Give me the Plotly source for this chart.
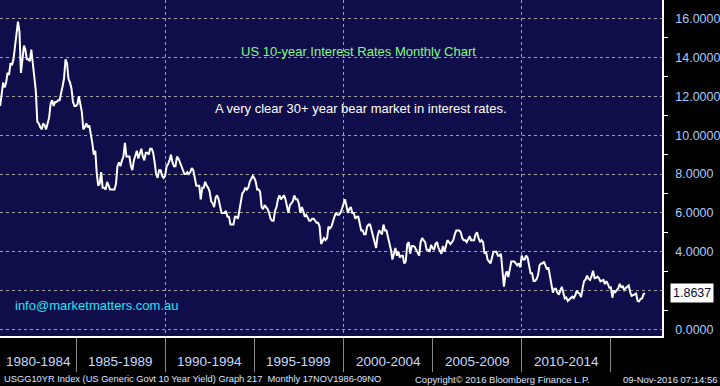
import pandas as pd
import plotly.graph_objects as go

# ---------------- data (month-end US 10y yield, %) ----------------
start_month = "1980-09-30"
yield_1980s = [
    11.50, 12.30, 12.70, 12.45,                                                    # 1980 Sep-Dec
    12.70, 13.20, 13.10, 13.70, 13.60, 13.90, 14.50, 15.10, 15.84, 15.30, 13.20, 13.90,  # 1981
    14.60, 14.40, 13.90, 13.90, 13.80, 14.40, 13.70, 12.70, 12.30, 10.70, 10.60, 10.40,  # 1982
    10.30, 10.60, 10.50, 10.30, 10.70, 10.90, 11.60, 11.80, 11.50, 11.70, 11.70, 11.80,  # 1983
    11.80, 12.10, 12.50, 12.90, 13.90, 13.70, 12.90, 12.70, 12.40, 11.70, 11.50, 11.50,  # 1984
    11.60, 12.00, 11.60, 11.20, 10.30, 10.40, 10.60, 10.40, 10.50, 10.10, 9.60, 9.00,    # 1985
    9.20, 8.10, 7.40, 7.50, 8.10, 7.30, 7.30, 7.20, 7.60, 7.40, 7.20, 7.20,              # 1986
    7.20, 7.20, 7.50, 8.40, 8.60, 8.40, 8.70, 8.90, 9.60, 8.90, 8.90, 8.90,              # 1987
    8.40, 8.20, 8.70, 8.90, 9.20, 8.80, 9.10, 9.30, 8.90, 8.70, 9.10, 9.10,              # 1988
    9.00, 9.30, 9.30, 9.10, 8.60, 8.00, 7.80, 8.20, 8.20, 7.90, 7.80, 7.90,              # 1989
]
yield_1990s = [
    8.40, 8.50, 8.70, 9.00, 8.60, 8.40, 8.40, 8.90, 8.80, 8.60, 8.30, 8.10,              # 1990
    8.00, 8.00, 8.10, 8.00, 8.10, 8.30, 8.20, 7.80, 7.40, 7.40, 7.40, 6.70,              # 1991
    7.30, 7.30, 7.60, 7.40, 7.30, 7.10, 6.60, 6.50, 6.30, 6.80, 6.90, 6.70,              # 1992
    6.40, 6.00, 6.00, 6.00, 6.10, 5.80, 5.80, 5.40, 5.40, 5.40, 5.80, 5.80,              # 1993
    5.70, 6.10, 6.70, 7.00, 7.10, 7.30, 7.20, 7.30, 7.60, 7.80, 7.90, 7.80,              # 1994
    7.60, 7.20, 7.20, 7.10, 6.30, 6.20, 6.40, 6.30, 6.20, 6.00, 5.70, 5.60,              # 1995
    5.60, 6.10, 6.30, 6.70, 6.90, 6.70, 6.80, 6.90, 6.70, 6.30, 6.00, 6.40,              # 1996
    6.50, 6.60, 6.90, 6.70, 6.70, 6.50, 6.00, 6.30, 6.10, 5.80, 5.90, 5.70,              # 1997
    5.60, 5.60, 5.70, 5.70, 5.60, 5.50, 5.50, 5.30, 4.40, 4.60, 4.70, 4.60,              # 1998
    4.70, 5.30, 5.20, 5.30, 5.60, 5.80, 6.00, 5.90, 5.90, 6.00, 6.20, 6.40,              # 1999
]
yield_2000s = [
    6.70, 6.40, 6.00, 6.20, 6.30, 6.00, 6.00, 5.70, 5.80, 5.80, 5.50, 5.10,              # 2000
    5.10, 4.90, 4.90, 5.30, 5.40, 5.40, 5.10, 4.80, 4.60, 4.20, 4.80, 5.10,              # 2001
    5.00, 4.90, 5.40, 5.10, 5.10, 4.80, 4.50, 4.10, 3.60, 3.90, 4.20, 3.80,              # 2002
    4.00, 3.70, 3.80, 3.80, 3.40, 3.50, 4.40, 4.50, 3.90, 4.30, 4.30, 4.25,              # 2003
    4.10, 4.00, 3.80, 4.50, 4.70, 4.60, 4.50, 4.10, 4.10, 4.00, 4.35, 4.20,              # 2004
    4.10, 4.40, 4.50, 4.20, 4.00, 3.90, 4.30, 4.00, 4.30, 4.60, 4.50, 4.40,              # 2005
    4.50, 4.60, 4.90, 5.10, 5.10, 5.10, 5.00, 4.70, 4.60, 4.60, 4.50, 4.70,              # 2006
    4.80, 4.60, 4.60, 4.60, 4.90, 5.00, 4.70, 4.50, 4.60, 4.50, 3.90, 4.00,              # 2007
    3.60, 3.50, 3.40, 3.70, 4.00, 4.00, 4.00, 3.80, 3.80, 3.90, 2.90, 2.21,              # 2008
    2.80, 3.00, 2.70, 3.10, 3.50, 3.50, 3.50, 3.40, 3.30, 3.40, 3.20, 3.80,              # 2009
]
yield_2010s = [
    3.60, 3.60, 3.80, 3.70, 3.30, 2.90, 2.90, 2.50, 2.50, 2.60, 2.80, 3.30,              # 2010
    3.40, 3.40, 3.50, 3.30, 3.10, 3.20, 2.80, 2.20, 1.90, 2.10, 2.10, 1.90,              # 2011
    1.80, 2.00, 2.20, 1.90, 1.60, 1.65, 1.47, 1.55, 1.63, 1.69, 1.62, 1.76,              # 2012
    2.00, 1.89, 1.85, 1.67, 2.13, 2.49, 2.58, 2.78, 2.61, 2.55, 2.75, 3.03,              # 2013
    2.64, 2.65, 2.72, 2.65, 2.48, 2.53, 2.56, 2.34, 2.49, 2.34, 2.16, 2.17,              # 2014
    1.64, 2.00, 1.92, 2.03, 2.12, 2.35, 2.18, 2.22, 2.04, 2.14, 2.21, 2.27,              # 2015
    1.92, 1.73, 1.77, 1.83, 1.85, 1.47, 1.45, 1.58, 1.60, 1.83, 1.8637,                  # 2016
]
yields = yield_1980s + yield_1990s + yield_2000s + yield_2010s
dates = pd.date_range(start_month, periods=len(yields), freq="ME")
last_value_label = "1.8637"

period_labels = ["1980-1984", "1985-1989", "1990-1994", "1995-1999",
                 "2000-2004", "2005-2009", "2010-2014"]
period_bounds = ["1980-01-01", "1985-01-01", "1990-01-01", "1995-01-01", "2000-01-01",
                 "2005-01-01", "2010-01-01", "2015-01-01"]
y_ticks = [0, 2, 4, 6, 8, 10, 12, 14, 16]
# the 2.0000 label is hidden behind the last-value box in the original
y_tick_text = ["0.0000", "", "4.0000", "6.0000", "8.0000",
               "10.0000", "12.0000", "14.0000", "16.0000"]
x_range = ["1980-09-27", "2017-11-12"]
y_range = [-0.33, 16.95]

title_text = "US 10-year Interest Rates Monthly Chart"
subtitle_text = "A very clear 30+ year bear market in interest rates."
email_text = "info@marketmatters.com.au"
footer_left = "USGG10YR Index (US Generic Govt 10 Year Yield) Graph 217  Monthly 17NOV1986-09NO"
footer_mid = "Copyright\u00a9 2016 Bloomberg Finance L.P."
footer_right = "09-Nov-2016 07:14:56"

# ---------------- figure ----------------
NAVY = "#100e4a"
GRID = "#a0a0a0"
TICKBLUE = "#a9cbff"
FONT = "Liberation Sans, Arial, sans-serif"

fig = go.Figure()
fig.add_trace(go.Scatter(x=dates, y=yields, mode="lines",
                         line=dict(color="white", width=2), hoverinfo="skip",
                         showlegend=False))

# triangles at major y ticks (on an overlay axis 0..1 across the plot)
fig.add_trace(go.Scatter(x=[1.007] * len(y_ticks), y=y_ticks, xaxis="x2",
                         mode="markers", cliponaxis=False,
                         marker=dict(symbol="triangle-right", size=8, color="white"),
                         hoverinfo="skip", showlegend=False))
# last value pointer
fig.add_trace(go.Scatter(x=[1.009], y=[yields[-1]], xaxis="x2",
                         mode="markers", cliponaxis=False,
                         marker=dict(symbol="triangle-left", size=13, color="white"),
                         hoverinfo="skip", showlegend=False))

pb = pd.to_datetime(period_bounds)
xr = pd.to_datetime(x_range)
annotations = []
for i, lab in enumerate(period_labels):
    a = max(pb[i], xr[0])
    b = min(pb[i + 1], xr[1])
    mid = a + (b - a) / 2
    annotations.append(dict(x=mid, y=-0.077, xref="x", yref="paper", text=lab,
                            showarrow=False, xanchor="center", yanchor="middle",
                            font=dict(family=FONT, size=13.5, color="#c6dbff")))

annotations += [
    dict(x=0.541, y=0.848, xref="paper", yref="paper", text=title_text, showarrow=False,
         xanchor="center", yanchor="middle",
         font=dict(family=FONT, size=13, color="#84fa84")),
    dict(x=0.545, y=0.676, xref="paper", yref="paper", text=subtitle_text, showarrow=False,
         xanchor="center", yanchor="middle",
         font=dict(family=FONT, size=13, color="white")),
    dict(x=0.0196, y=0.092, xref="paper", yref="paper", text=email_text, showarrow=False,
         xanchor="left", yanchor="middle",
         font=dict(family=FONT, size=13, color="#22e2f2")),
    dict(x=0.003, y=-0.128, xref="paper", yref="paper", text=footer_left, showarrow=False,
         xanchor="left", yanchor="middle",
         font=dict(family=FONT, size=9.3, color="#dfe6ff")),
    dict(x=0.624, y=-0.128, xref="paper", yref="paper", text=footer_mid, showarrow=False,
         xanchor="left", yanchor="middle",
         font=dict(family=FONT, size=9.5, color="#dfe6ff")),
    dict(x=0.938, y=-0.128, xref="paper", yref="paper", text=footer_right, showarrow=False,
         xanchor="left", yanchor="middle",
         font=dict(family=FONT, size=9.5, color="#dfe6ff")),
    dict(x=1, y=yields[-1], xref="paper", yref="y", text=last_value_label, showarrow=False,
         xanchor="left", yanchor="middle", xshift=8, bgcolor="white", borderpad=2,
         font=dict(family=FONT, size=12.5, color="#0a0a30")),
]

fig.update_layout(
    width=720, height=386,
    margin=dict(l=0, r=58, t=0, b=50),
    paper_bgcolor="black", plot_bgcolor=NAVY,
    annotations=annotations,
    xaxis=dict(type="date", range=x_range, tickmode="array", tickvals=period_bounds[1:],
               showticklabels=False, ticks="outside", ticklen=34, tickcolor="#8a8a8a",
               tickwidth=1, showgrid=False, zeroline=False,
               showline=True, linecolor="white", linewidth=1.5,
               minor=dict(tickmode="array",
                          tickvals=["1990-01-01", "2000-01-01", "2010-01-01"],
                          showgrid=True, gridcolor=GRID, griddash="dot", gridwidth=1,
                          ticks="")),
    xaxis2=dict(overlaying="x", range=[0, 1], visible=False, fixedrange=True),
    yaxis=dict(side="right", range=y_range, tickmode="array", tickvals=y_ticks,
               ticktext=y_tick_text, ticks="", ticklabelstandoff=9,
               tickfont=dict(family=FONT, size=12.5, color=TICKBLUE),
               showgrid=True, gridcolor=GRID, griddash="dot", gridwidth=1,
               zeroline=False, showline=True, linecolor="white", linewidth=1.5,
               minor=dict(tickmode="array", tickvals=[1, 3, 5, 7, 9, 11, 13, 15],
                          ticks="outside", ticklen=4, tickcolor="white", showgrid=False)),
)

fig.write_html("out.html", config={"displayModeBar": False},
               post_script="document.body.style.margin='0';document.body.style.overflow='hidden';")
